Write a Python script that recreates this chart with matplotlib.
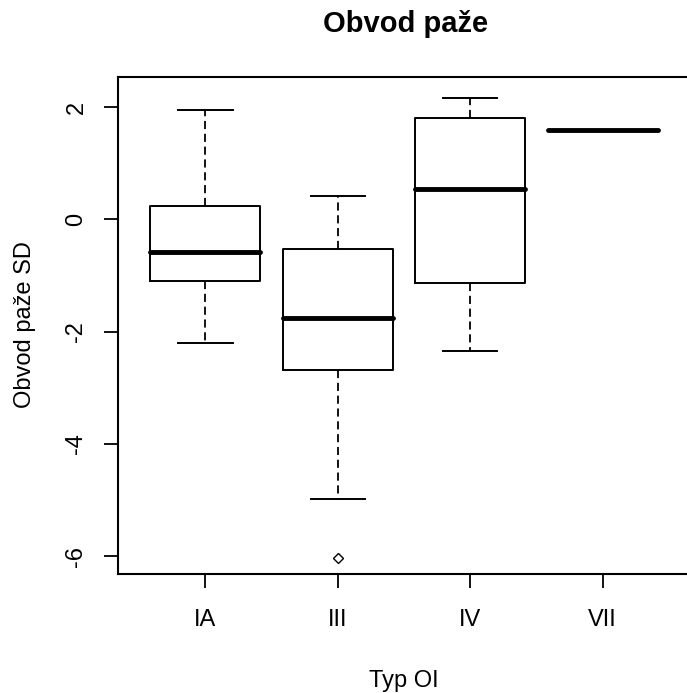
import matplotlib
matplotlib.use("Agg")
import matplotlib.pyplot as plt

plt.rcParams['font.family'] = ['Liberation Sans', 'DejaVu Sans']

categories = ["IA", "III", "IV", "VII"]
whisker_low = [-2.20, -4.99, -2.34, 1.60]
q1 = [-1.10, -2.68, -1.13, 1.60]
median = [-0.58, -1.75, 0.54, 1.60]
q3 = [0.24, -0.53, 1.81, 1.60]
whisker_high = [1.95, 0.42, 2.17, 1.60]
outliers = [[], [-6.03], [], []]
yticks = [-6, -4, -2, 0, 2]

fig = plt.figure(figsize=(6.87, 6.93), dpi=100)
ax = fig.add_axes([118/687, 1-574/693, (690-118)/687, (574-77)/693])

stats = []
for i, c in enumerate(categories):
    stats.append(dict(label=c, whislo=whisker_low[i], q1=q1[i], med=median[i],
                      q3=q3[i], whishi=whisker_high[i], fliers=outliers[i]))

ax.bxp(stats, positions=range(1, len(categories)+1), widths=0.83,
       boxprops=dict(color='black', linewidth=1.4),
       whiskerprops=dict(color='black', linewidth=1.3, linestyle=(0, (4.5, 2.6))),
       capprops=dict(color='black', linewidth=1.4),
       medianprops=dict(color='black', linewidth=3.5, solid_capstyle='round'),
       flierprops=dict(marker='D', markersize=5, markerfacecolor='white',
                       markeredgecolor='black', markeredgewidth=1.0),
       capwidths=0.41)

ax.set_xlim(0.34, 4.66)
ax.set_ylim(-6.32, 2.54)
ax.set_yticks(yticks)
ax.set_yticklabels([str(t) for t in yticks], rotation=90, va='center')
ax.set_xticks(range(1, len(categories)+1))
ax.set_xticklabels(categories)
ax.tick_params(axis='both', length=10, width=1.3, labelsize=17)
ax.tick_params(axis='x', pad=15)
ax.tick_params(axis='y', pad=12)
for s in ['left', 'bottom', 'top', 'right']:
    ax.spines[s].set_linewidth(1.5)

fig.text(31/687, 1-325/693, "Obvod paže SD", rotation=90, rotation_mode='anchor',
         ha='center', va='baseline', fontsize=17)
fig.text(404/687, 1-687/693, "Typ OI", ha='center', va='baseline', fontsize=17)
fig.text(406/687, 1-32/693, "Obvod paže", ha='center', va='baseline',
         fontsize=21, fontweight='bold')

fig.savefig("out.png", dpi=100)
